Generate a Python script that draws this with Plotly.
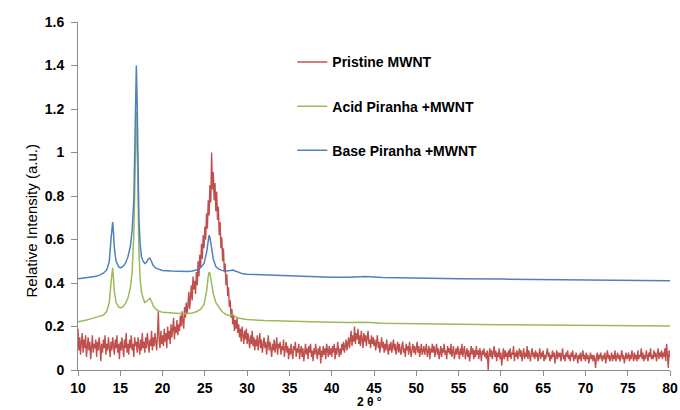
import plotly.graph_objects as go

# ---------------- data ----------------
# Pristine MWNT: 2theta from 10 to 80 in steps of 0.1
pristine_start = 10.0
pristine_step = 0.1
pristine_y = [
    0.19, 0.09, 0.15, 0.07, 0.13, 0.17, 0.08, 0.14, 0.10, 0.16,  # 10
    0.06, 0.12, 0.15, 0.09, 0.13, 0.05, 0.11, 0.16, 0.08, 0.12,  # 11
    0.10, 0.14, 0.06, 0.13, 0.09, 0.15, 0.11, 0.04, 0.12, 0.08,  # 12
    0.14, 0.10, 0.16, 0.07, 0.12, 0.09, 0.15, 0.11, 0.06, 0.13,  # 13
    0.09, 0.15, 0.11, 0.07, 0.14, 0.10, 0.16, 0.08, 0.12, 0.05,  # 14
    0.13, 0.09, 0.15, 0.11, 0.06, 0.14, 0.10, 0.17, 0.08, 0.12,  # 15
    0.07, 0.14, 0.10, 0.16, 0.09, 0.12, 0.06, 0.15, 0.11, 0.13,  # 16
    0.08, 0.15, 0.11, 0.07, 0.14, 0.09, 0.17, 0.10, 0.13, 0.08,  # 17
    0.15, 0.10, 0.17, 0.12, 0.08, 0.14, 0.11, 0.18, 0.09, 0.15,  # 18
    0.11, 0.17, 0.12, 0.09, 0.16, 0.27, 0.13, 0.10, 0.18, 0.12,  # 19
    0.16, 0.11, 0.19, 0.13, 0.17, 0.10, 0.20, 0.14, 0.18, 0.12,  # 20
    0.21, 0.15, 0.19, 0.24, 0.14, 0.20, 0.17, 0.23, 0.16, 0.21,  # 21
    0.18, 0.25, 0.20, 0.27, 0.22, 0.19, 0.29, 0.24, 0.31, 0.26,  # 22
    0.30, 0.36, 0.28, 0.34, 0.39, 0.32, 0.43, 0.37, 0.41, 0.35,  # 23
    0.45, 0.39, 0.50, 0.43, 0.53, 0.47, 0.58, 0.51, 0.62, 0.56,  # 24
    0.66, 0.60, 0.72, 0.65, 0.78, 0.71, 0.85, 0.77, 1.00, 0.83,  # 25
    0.91, 0.78, 0.86, 0.73, 0.82, 0.69, 0.75, 0.62, 0.68, 0.56,  # 26
    0.61, 0.50, 0.56, 0.45, 0.49, 0.39, 0.44, 0.34, 0.38, 0.29,  # 27
    0.32, 0.24, 0.28, 0.21, 0.25, 0.18, 0.23, 0.19, 0.24, 0.17,  # 28
    0.21, 0.15, 0.19, 0.13, 0.20, 0.16, 0.12, 0.18, 0.14, 0.19,  # 29
    0.12, 0.17, 0.13, 0.10, 0.16, 0.12, 0.18, 0.11, 0.15, 0.09,  # 30
    0.14, 0.11, 0.16, 0.09, 0.13, 0.17, 0.10, 0.14, 0.08, 0.12,  # 31
    0.15, 0.10, 0.13, 0.07, 0.12, 0.16, 0.09, 0.13, 0.10, 0.06,  # 32
    0.12, 0.09, 0.14, 0.08, 0.11, 0.15, 0.07, 0.12, 0.10, 0.13,  # 33
    0.07, 0.11, 0.09, 0.14, 0.06, 0.10, 0.13, 0.08, 0.11, 0.05,  # 34
    0.10, 0.07, 0.12, 0.08, 0.05, 0.11, 0.09, 0.13, 0.06, 0.10,  # 35
    0.08, 0.12, 0.05, 0.09, 0.11, 0.06, 0.10, 0.04, 0.09, 0.12,  # 36
    0.07, 0.10, 0.05, 0.11, 0.08, 0.12, 0.06, 0.09, 0.04, 0.10,  # 37
    0.07, 0.12, 0.08, 0.05, 0.10, 0.07, 0.11, 0.03, 0.09, 0.06,  # 38
    0.11, 0.07, 0.10, 0.05, 0.12, 0.08, 0.06, 0.11, 0.07, 0.10,  # 39
    0.06, 0.11, 0.08, 0.12, 0.05, 0.10, 0.07, 0.13, 0.09, 0.06,  # 40
    0.10, 0.07, 0.12, 0.09, 0.13, 0.08, 0.11, 0.14, 0.09, 0.12,  # 41
    0.15, 0.10, 0.14, 0.18, 0.11, 0.16, 0.13, 0.20, 0.12, 0.17,  # 42
    0.14, 0.19, 0.12, 0.16, 0.11, 0.18, 0.14, 0.10, 0.17, 0.13,  # 43
    0.16, 0.11, 0.15, 0.18, 0.12, 0.14, 0.10, 0.16, 0.12, 0.15,  # 44
    0.11, 0.14, 0.09, 0.13, 0.16, 0.10, 0.13, 0.08, 0.12, 0.15,  # 45
    0.10, 0.13, 0.08, 0.12, 0.09, 0.14, 0.10, 0.07, 0.12, 0.09,  # 46
    0.13, 0.08, 0.11, 0.14, 0.09, 0.12, 0.07, 0.11, 0.13, 0.08,  # 47
    0.12, 0.09, 0.07, 0.11, 0.13, 0.08, 0.10, 0.06, 0.12, 0.09,  # 48
    0.11, 0.07, 0.13, 0.09, 0.06, 0.10, 0.12, 0.08, 0.11, 0.07,  # 49
    0.10, 0.13, 0.08, 0.11, 0.06, 0.10, 0.12, 0.07, 0.09, 0.11,  # 50
    0.07, 0.10, 0.12, 0.06, 0.09, 0.11, 0.05, 0.10, 0.08, 0.12,  # 51
    0.08, 0.11, 0.06, 0.09, 0.12, 0.07, 0.10, 0.05, 0.09, 0.11,  # 52
    0.06, 0.10, 0.08, 0.12, 0.07, 0.09, 0.05, 0.11, 0.08, 0.10,  # 53
    0.07, 0.12, 0.06, 0.09, 0.11, 0.05, 0.08, 0.10, 0.07, 0.11,  # 54
    0.08, 0.05, 0.10, 0.07, 0.12, 0.06, 0.09, 0.11, 0.05, 0.08,  # 55
    0.10, 0.06, 0.09, 0.04, 0.08, 0.11, 0.07, 0.10, 0.05, 0.09,  # 56
    0.06, 0.11, 0.07, 0.09, 0.05, 0.10, 0.08, 0.04, 0.09, 0.07,  # 57
    0.10, 0.06, 0.08, 0.05, 0.09, 0.00, 0.07, 0.10, 0.06, 0.09,  # 58
    0.05, 0.08, 0.11, 0.06, 0.09, 0.04, 0.08, 0.06, 0.10, 0.05,  # 59
    0.08, 0.02, 0.07, 0.10, 0.05, 0.09, 0.06, 0.08, 0.04, 0.09,  # 60
    0.06, 0.10, 0.05, 0.08, 0.07, 0.11, 0.04, 0.08, 0.06, 0.09,  # 61
    0.05, 0.08, 0.10, 0.06, 0.09, 0.04, 0.07, 0.10, 0.05, 0.08,  # 62
    0.06, 0.11, 0.05, 0.09, 0.07, 0.04, 0.08, 0.10, 0.06, 0.08,  # 63
    0.05, 0.09, 0.06, 0.08, 0.04, 0.07, 0.10, 0.05, 0.08, 0.06,  # 64
    0.09, 0.04, 0.07, 0.05, 0.08, 0.10, 0.06, 0.08, 0.04, 0.07,  # 65
    0.05, 0.09, 0.06, 0.08, 0.03, 0.07, 0.09, 0.05, 0.08, 0.06,  # 66
    0.08, 0.04, 0.07, 0.10, 0.05, 0.07, 0.04, 0.08, 0.06, 0.09,  # 67
    0.05, 0.07, 0.04, 0.08, 0.06, 0.09, 0.04, 0.07, 0.05, 0.08,  # 68
    0.06, 0.03, 0.07, 0.05, 0.08, 0.04, 0.07, 0.09, 0.05, 0.07,  # 69
    0.04, 0.08, 0.05, 0.07, 0.03, 0.06, 0.08, 0.05, 0.07, 0.04,  # 70
    0.07, 0.05, 0.01, 0.06, 0.08, 0.04, 0.07, 0.05, 0.08, 0.06,  # 71
    0.04, 0.07, 0.05, 0.08, 0.03, 0.06, 0.09, 0.05, 0.07, 0.04,  # 72
    0.06, 0.08, 0.04, 0.07, 0.05, 0.09, 0.04, 0.06, 0.08, 0.05,  # 73
    0.07, 0.04, 0.06, 0.09, 0.05, 0.07, 0.03, 0.06, 0.08, 0.05,  # 74
    0.06, 0.08, 0.04, 0.07, 0.05, 0.09, 0.06, 0.04, 0.08, 0.05,  # 75
    0.07, 0.04, 0.09, 0.05, 0.07, 0.06, 0.10, 0.05, 0.08, 0.04,  # 76
    0.07, 0.05, 0.09, 0.06, 0.04, 0.08, 0.06, 0.10, 0.05, 0.07,  # 77
    0.05, 0.09, 0.06, 0.08, 0.04, 0.07, 0.10, 0.05, 0.08, 0.06,  # 78
    0.09, 0.05, 0.08, 0.06, 0.10, 0.04, 0.12, 0.07, 0.01, 0.09,  # 79
    0.06,                                                        # 80
]
pristine_x = [round(pristine_start + i * pristine_step, 2) for i in range(len(pristine_y))]

# Acid Piranha + MWNT
acid_x = [10, 10.5, 11, 11.5, 12, 12.5, 13, 13.4, 13.7, 13.9, 14.0, 14.1, 14.2, 14.3,
          14.5, 14.8, 15.0, 15.3, 15.6, 15.9, 16.2, 16.4, 16.6, 16.7, 16.8, 16.9, 17.0,
          17.1, 17.2, 17.35, 17.5, 17.7, 17.9, 18.1, 18.3, 18.5, 18.7, 18.9, 19.2, 19.6,
          20, 21, 22, 23, 23.5, 24, 24.5, 24.9, 25.2, 25.4, 25.5, 25.6, 25.8, 26.0, 26.3,
          26.6, 27, 27.5, 28, 28.3, 28.6, 29, 29.5, 30, 32, 34, 36, 38, 40, 42, 44, 46,
          50, 55, 60, 65, 70, 75, 80]
acid_y = [0.222, 0.225, 0.23, 0.235, 0.24, 0.245, 0.252, 0.27, 0.31, 0.40, 0.45, 0.47, 0.42, 0.36,
          0.31, 0.29, 0.285, 0.29, 0.305, 0.33, 0.38, 0.45, 0.62, 0.80, 1.02, 1.19, 1.05,
          0.75, 0.55, 0.42, 0.36, 0.33, 0.31, 0.315, 0.325, 0.33, 0.315, 0.295, 0.28, 0.27,
          0.265, 0.262, 0.26, 0.26, 0.262, 0.268, 0.28, 0.30, 0.36, 0.43, 0.45, 0.445, 0.40, 0.35, 0.31,
          0.29, 0.27, 0.255, 0.25, 0.256, 0.245, 0.238, 0.235, 0.232, 0.228, 0.225, 0.222, 0.22, 0.219, 0.218, 0.22, 0.215,
          0.212, 0.21, 0.208, 0.206, 0.204, 0.203, 0.202]

# Base Piranha + MWNT
base_x = acid_x
base_y = [0.42, 0.422, 0.425, 0.427, 0.43, 0.435, 0.445, 0.46, 0.50, 0.60, 0.66, 0.68, 0.63, 0.56,
          0.50, 0.475, 0.47, 0.475, 0.49, 0.52, 0.57, 0.64, 0.78, 0.95, 1.20, 1.40, 1.22,
          0.90, 0.70, 0.58, 0.52, 0.50, 0.49, 0.495, 0.51, 0.515, 0.50, 0.48, 0.468, 0.462,
          0.458, 0.455, 0.453, 0.453, 0.455, 0.46, 0.47, 0.49, 0.54, 0.60, 0.62, 0.61, 0.56, 0.51, 0.475,
          0.465, 0.458, 0.455, 0.457, 0.46, 0.455, 0.448, 0.442, 0.44, 0.437, 0.433, 0.43, 0.428, 0.427, 0.426, 0.43, 0.425,
          0.422, 0.42, 0.418, 0.416, 0.414, 0.412, 0.41]

series_names = ["Pristine MWNT", "Acid Piranha +MWNT", "Base Piranha +MWNT"]
series_colors = ["#C0504D", "#9BBB59", "#4F81BD"]

x_ticks = [10, 15, 20, 25, 30, 35, 40, 45, 50, 55, 60, 65, 70, 75, 80]
y_ticks = [0, 0.2, 0.4, 0.6, 0.8, 1.0, 1.2, 1.4, 1.6]
y_tick_labels = ["0", "0.2", "0.4", "0.6", "0.8", "1", "1.2", "1.4", "1.6"]

# ---------------- figure ----------------
fig = go.Figure()
data = [(pristine_x, pristine_y), (acid_x, acid_y), (base_x, base_y)]
for i, ((xs, ys), name, col) in enumerate(zip(data, series_names, series_colors)):
    fig.add_trace(go.Scatter(
        x=xs, y=ys, mode="lines", name=name,
        line=dict(color=col, width=1.4 if i == 0 else 1.5),
        legendgroup=f"g{i}",
    ))

FONT = "Liberation Sans"
axis_col = "#8c8c8c"
fig.update_layout(
    width=680, height=410,
    margin=dict(l=78, r=10, t=22, b=40, autoexpand=False),
    paper_bgcolor="white", plot_bgcolor="white",
    font=dict(family=FONT, size=14, color="black"),
    showlegend=True,
    legend=dict(
        x=0.362, y=0.93, xanchor="left", yanchor="top",
        font=dict(family=FONT, size=14, weight="bold", color="black"),
        tracegroupgap=23, bgcolor="rgba(0,0,0,0)",
    ),
    xaxis=dict(
        range=[10, 80], tickvals=x_ticks, showgrid=False, zeroline=False,
        showline=True, linecolor=axis_col, linewidth=1, automargin=False,
        ticks="outside", ticklen=5, tickcolor=axis_col,
        tickfont=dict(family=FONT, size=14, weight="bold"),
    ),
    yaxis=dict(
        range=[0, 1.6], tickvals=y_ticks, ticktext=y_tick_labels,
        showgrid=False, zeroline=False, automargin=False,
        showline=True, linecolor=axis_col, linewidth=1,
        ticks="outside", ticklen=6, tickcolor=axis_col,
        tickfont=dict(family=FONT, size=14, weight="bold"),
        ticklabelstandoff=4,
    ),
    annotations=[
        dict(text="Relative Intensity (a.u.)", xref="paper", yref="paper",
             x=(20 - 78) / 592, y=(370 - 221) / 348, textangle=-90,
             showarrow=False, font=dict(family=FONT, size=15)),
        dict(text="2 θ °", xref="paper", yref="paper",
             x=(369 - 78) / 592, y=(370 - 402) / 348, yanchor="middle",
             showarrow=False, font=dict(family=FONT, size=12, weight="bold")),
    ],
)

fig.write_html("out.html")
